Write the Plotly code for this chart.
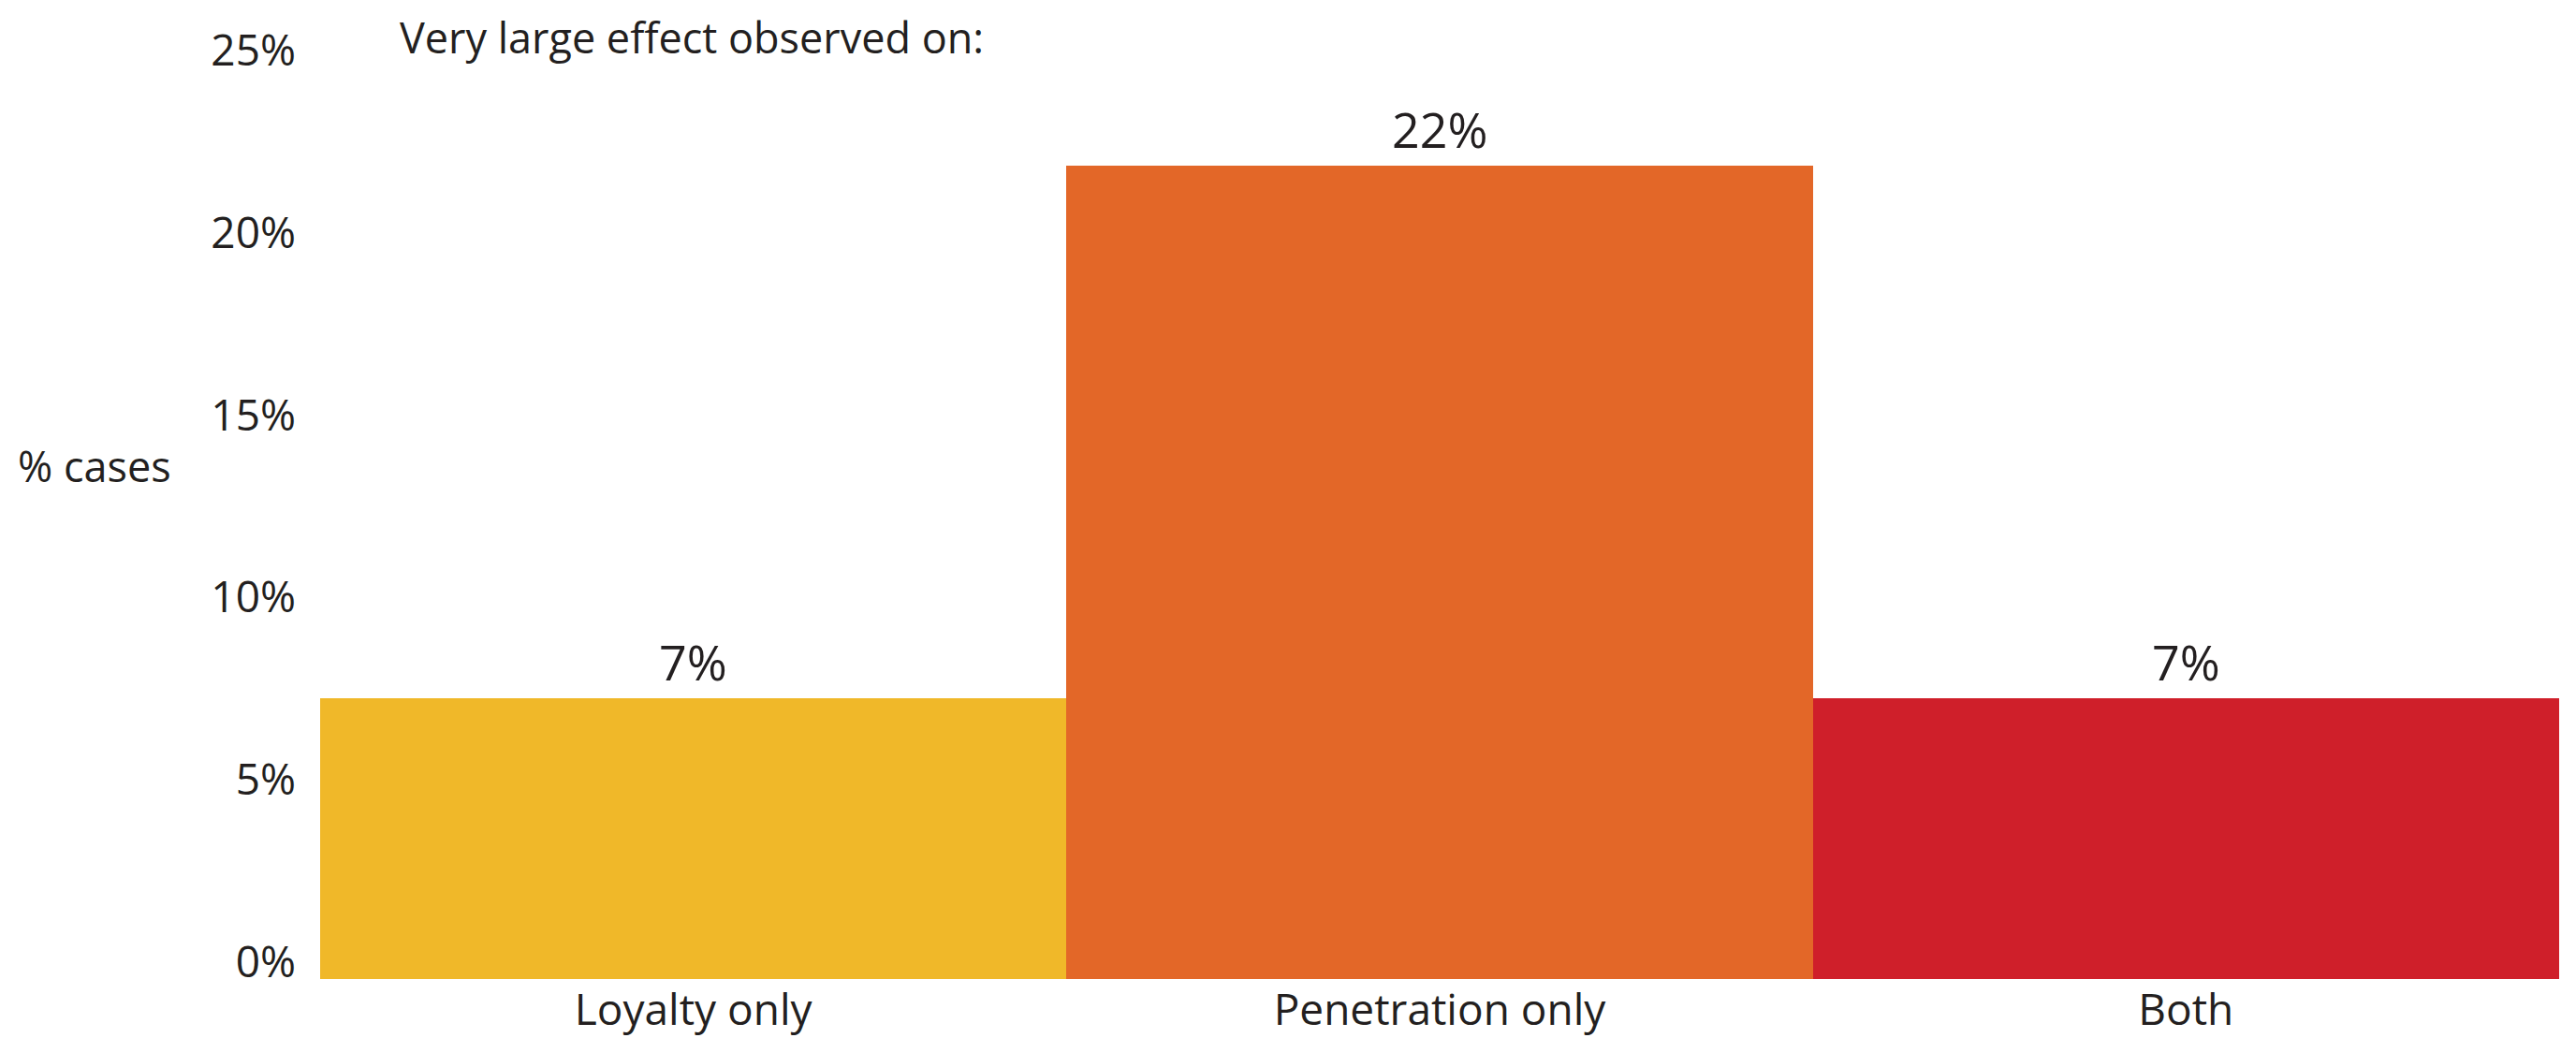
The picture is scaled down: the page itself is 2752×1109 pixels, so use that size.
import plotly.graph_objects as go

categories = ["Loyalty only", "Penetration only", "Both"]
values = [7.7, 22.3, 7.7]
value_labels = ["7%", "22%", "7%"]
bar_colors = ["#F0B829", "#E36728", "#CF1F2A"]
y_tick_values = [0, 5, 10, 15, 20, 25]
y_tick_labels = ["0%", "5%", "10%", "15%", "20%", "25%"]
title_text = "Very large effect observed on:"
y_axis_label = "% cases"

FONT = "Open Sans"
TXT = "#231F20"
OFF = 8  # page body margin
W, H = 2752 - OFF, 1109 - OFF
L, R, T, B = 342 - OFF, 18, 30 - OFF, 63
PX_PER_UNIT = 38.97

fig = go.Figure()
fig.add_trace(go.Bar(
    x=categories, y=values,
    marker=dict(color=bar_colors, line=dict(width=0)),
    hoverinfo="skip",
))

for c, v, t in zip(categories, values, value_labels):
    fig.add_annotation(x=c, y=v, text=t, showarrow=False, xref="x", yref="y",
                       yanchor="middle", yshift=39,
                       font=dict(family=FONT, size=52, color=TXT))

plot_w = W - L - R
plot_h = H - T - B
plot_bottom = H - B  # in figure px
fig.add_annotation(x=(426 - OFF - L) / plot_w, y=(plot_bottom - 32) / plot_h,
                   xref="paper", yref="paper",
                   text=title_text, showarrow=False, xanchor="left", yanchor="middle",
                   borderpad=0,
                   font=dict(family=FONT, size=45, color=TXT))
fig.add_annotation(x=-(L - (17 - OFF)) / plot_w, y=(plot_bottom - (498 - OFF)) / plot_h,
                   xref="paper", yref="paper",
                   text=y_axis_label, showarrow=False, xanchor="left", yanchor="middle",
                   font=dict(family=FONT, size=45, color=TXT))

fig.update_layout(
    width=W, height=H,
    margin=dict(l=L, r=R, t=T, b=B, autoexpand=False),
    paper_bgcolor="white", plot_bgcolor="white",
    bargap=0, showlegend=False,
    font=dict(family=FONT, size=46, color=TXT),
)
fig.update_xaxes(showgrid=False, showline=False, zeroline=False, ticks="",
                 tickfont=dict(family=FONT, size=46, color=TXT),
                 ticklabelstandoff=2, automargin=False)
fig.update_yaxes(range=[0, plot_h / PX_PER_UNIT], tickvals=y_tick_values, ticktext=y_tick_labels,
                 showgrid=False, showline=False, zeroline=False, ticks="",
                 tickfont=dict(family=FONT, size=46, color=TXT),
                 ticklabelstandoff=25, ticklabelshift=-18, automargin=False)

fig.write_html("out.html")
